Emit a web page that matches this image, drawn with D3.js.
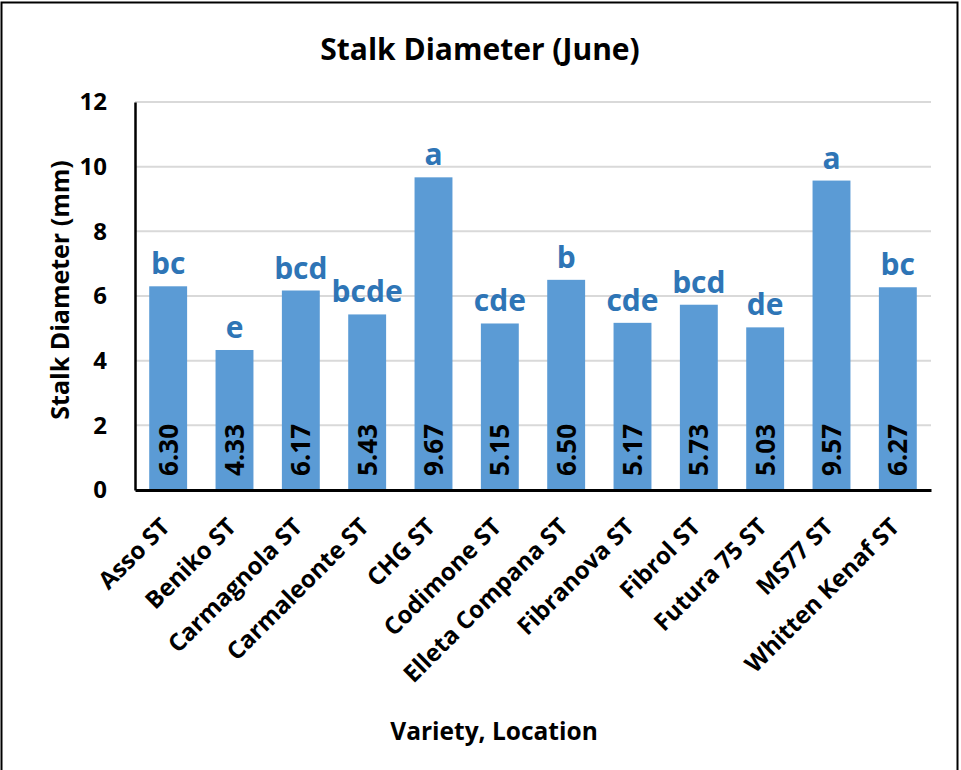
<!DOCTYPE html>
<html><head><meta charset="utf-8">
<script src="https://cdn.jsdelivr.net/npm/d3@7"></script>
<style>body{margin:0;background:#fff}svg{display:block}text{font-family:"Open Sans","Noto Sans",sans-serif;font-weight:bold}</style>
</head><body>
<script>
const categories = ["Asso ST","Beniko ST","Carmagnola ST","Carmaleonte ST","CHG ST","Codimone ST","Elleta Compana ST","Fibranova ST","Fibrol ST","Futura 75 ST","MS77 ST","Whitten Kenaf ST"];
const values = [6.30,4.33,6.17,5.43,9.67,5.15,6.50,5.17,5.73,5.03,9.57,6.27];
const letters = ["bc","e","bcd","bcde","a","cde","b","cde","bcd","de","a","bc"];
const yTicks = [0,2,4,6,8,10,12];
const title = "Stalk Diameter (June)";
const yTitle = "Stalk Diameter (mm)";
const xTitle = "Variety, Location";

const W = 961, H = 770;
const mLeft = 135, mRight = 931, mTop = 102, mBottom = 490;
const svg = d3.select("body").append("svg").attr("width", W).attr("height", H);
svg.append("rect").attr("width", W).attr("height", H).attr("fill", "#fff");
svg.append("rect").attr("x",1.5).attr("y",2.5).attr("width",956).attr("height",790)
  .attr("fill","none").attr("stroke","#000").attr("stroke-width",2);

const x = d3.scaleBand().domain(categories).range([mLeft, mRight]).paddingInner(0.75/1.75).paddingOuter(0.375/1.75);
const y = d3.scaleLinear().domain([0, 12]).range([mBottom, mTop]);

// gridlines
svg.append("g").selectAll("line").data(yTicks.filter(d => d > 0)).join("line")
  .attr("x1", mLeft).attr("x2", mRight).attr("y1", d => y(d)).attr("y2", d => y(d))
  .attr("stroke", "#d9d9d9").attr("stroke-width", 2);

// bars
svg.append("g").selectAll("rect").data(values).join("rect")
  .attr("x", (d,i) => x(categories[i])).attr("width", x.bandwidth())
  .attr("y", d => y(d)).attr("height", d => y(0) - y(d))
  .attr("fill", "#5b9bd5");

// y axis
const yAxis = d3.axisLeft(y).tickValues(yTicks).tickSize(0).tickPadding(28).tickFormat(d3.format("d"));
const gy = svg.append("g").attr("transform", `translate(${mLeft},0)`).call(yAxis);
gy.select(".domain").attr("stroke", "#000").attr("stroke-width", 2.5);
gy.selectAll("text").attr("font-size", 24).attr("fill", "#000")
  .attr("font-family", "'Open Sans'").attr("font-weight", "bold");

// x axis
const xAxis = d3.axisBottom(x).tickSize(0).tickFormat("");
const gx = svg.append("g").attr("transform", `translate(0,${mBottom})`).call(xAxis);
gx.select(".domain").attr("stroke", "#000").attr("stroke-width", 3);

// x labels rotated
svg.append("g").selectAll("text").data(categories).join("text")
  .attr("transform", d => `translate(${x(d) + x.bandwidth()/2 - 3},${mBottom + 32}) rotate(-45)`)
  .attr("text-anchor", "end").attr("dy", "0.36em")
  .attr("font-size", 24).attr("fill", "#000").text(d => d);

// value labels inside bars
svg.append("g").selectAll("text").data(values).join("text")
  .attr("transform", (d,i) => `translate(${x(categories[i]) + x.bandwidth()/2},${mBottom - 14}) rotate(-90)`)
  .attr("text-anchor", "start").attr("dy", "0.36em")
  .attr("font-size", 26).attr("fill", "#000").text(d => d.toFixed(2));

// letter labels
svg.append("g").selectAll("text").data(values).join("text")
  .attr("x", (d,i) => x(categories[i]) + x.bandwidth()/2).attr("y", d => y(d) - 12)
  .attr("text-anchor", "middle").attr("font-size", 30).attr("fill", "#2e75b6")
  .text((d,i) => letters[i]);

// titles
svg.append("text").attr("x", 480).attr("y", 60).attr("text-anchor", "middle")
  .attr("font-size", 30).attr("fill", "#000").text(title);
svg.append("text").attr("transform", `translate(60,290) rotate(-90)`)
  .attr("text-anchor", "middle").attr("dy", "0.36em").attr("font-size", 25).attr("fill", "#000").text(yTitle);
svg.append("text").attr("x", 494).attr("y", 740).attr("text-anchor", "middle")
  .attr("font-size", 24.5).attr("fill", "#000").text(xTitle);
</script>
</body></html>
